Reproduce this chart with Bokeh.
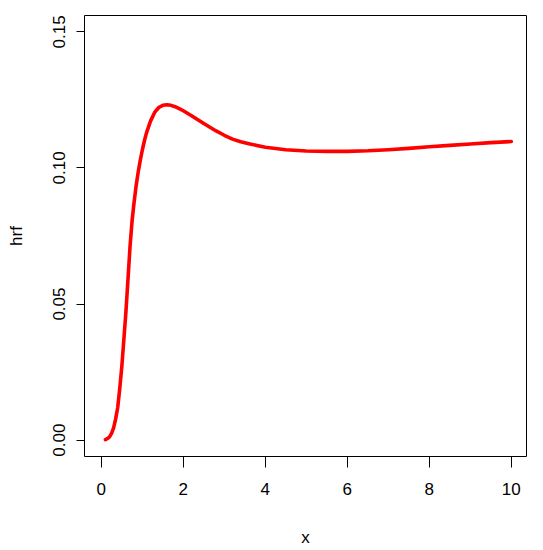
from bokeh.plotting import figure
from bokeh.models import Range1d, FixedTicker
from bokeh.embed import file_html
from bokeh.resources import INLINE

x = [0.10, 0.15, 0.20, 0.25, 0.30, 0.35, 0.40, 0.45, 0.50, 0.55, 0.60, 0.65,
     0.70, 0.75, 0.80, 0.85, 0.90, 0.95, 1.00, 1.05, 1.10, 1.20, 1.30, 1.40,
     1.50, 1.60, 1.70, 1.80, 1.90, 2.00, 2.20, 2.50, 2.80, 3.00, 3.20, 3.40,
     3.60, 4.00, 4.50, 5.00, 5.50, 6.00, 6.50, 7.00, 7.50, 8.00, 8.50, 9.00,
     9.50, 10.00]
hrf = [0.0002, 0.0006, 0.0012, 0.0025, 0.0045, 0.0078, 0.0120, 0.0190, 0.0270,
       0.0370, 0.0470, 0.0590, 0.0710, 0.0805, 0.0875, 0.0935, 0.0985, 0.1028,
       0.1066, 0.1099, 0.1128, 0.1172, 0.1204, 0.1222, 0.1230, 0.1232, 0.1230,
       0.1225, 0.1218, 0.1210, 0.1192, 0.1163, 0.1136, 0.1120, 0.1106, 0.1096,
       0.1089, 0.1076, 0.1067, 0.1062, 0.1061, 0.1061, 0.1063, 0.1067, 0.1072,
       0.1078, 0.1083, 0.1088, 0.1093, 0.1097]
x_ticks = [0, 2, 4, 6, 8, 10]
y_ticks = [0.00, 0.05, 0.10, 0.15]
y_tick_labels = {0.00: "0.00", 0.05: "0.05", 0.10: "0.10", 0.15: "0.15"}

FONT = "Liberation Sans"

p = figure(output_backend="svg", toolbar_location=None,
           frame_width=442, frame_height=441,
           min_border_left=84, min_border_top=15, min_border_right=10, min_border_bottom=87,
           x_range=Range1d(-0.41, 10.37), y_range=Range1d(-0.006, 0.156),
           x_axis_label="x", y_axis_label="hrf")

p.line(x, hrf, line_color="#FF0000", line_width=3.6, line_join="round", line_cap="round")

p.grid.visible = False
p.outline_line_color = "black"
p.outline_line_width = 1
p.background_fill_color = "white"
p.border_fill_color = "white"

p.xaxis.ticker = FixedTicker(ticks=x_ticks)
p.yaxis.ticker = FixedTicker(ticks=y_ticks)
p.yaxis.major_label_overrides = y_tick_labels
p.yaxis.major_label_orientation = "vertical"

for ax in (p.xaxis[0], p.yaxis[0]):
    ax.axis_line_color = None
    ax.major_tick_in = 0
    ax.minor_tick_line_color = None
    ax.major_tick_line_color = "black"
    ax.major_label_text_font = FONT
    ax.major_label_text_font_size = "17px"
    ax.major_label_text_color = "black"
    ax.axis_label_text_font = FONT
    ax.axis_label_text_font_size = "17px"
    ax.axis_label_text_font_style = "normal"
    ax.axis_label_text_color = "black"

p.xaxis.major_tick_out = 11
p.xaxis.major_label_standoff = 15
p.xaxis.axis_label_standoff = 30
p.yaxis.major_tick_out = 8
p.yaxis.major_label_standoff = 11
p.yaxis.axis_label_standoff = 25

open("out.html", "w").write(file_html(p, INLINE))
